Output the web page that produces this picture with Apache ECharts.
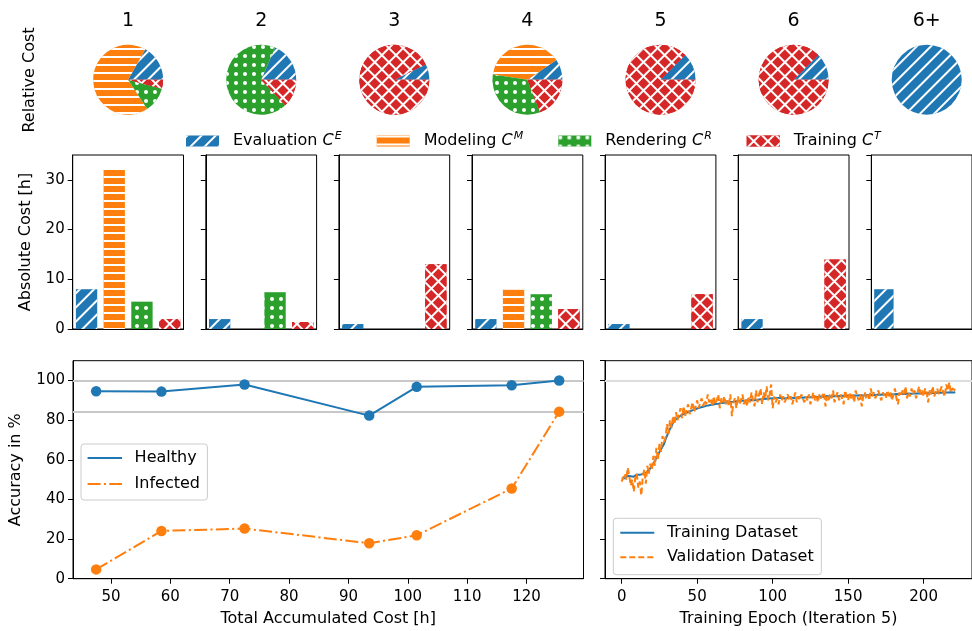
<!DOCTYPE html>
<html><head><meta charset="utf-8">
<script src="https://cdn.jsdelivr.net/npm/echarts@6/dist/echarts.min.js"></script>
<style>html,body{margin:0;padding:0;background:#fff}#c{width:972px;height:631px}</style>
</head><body><div id="c"></div>
<script>
// ---------------- data ----------------
const iterations = ['1', '2', '3', '4', '5', '6', '6+'];
const costTypes = ['Evaluation', 'Modeling', 'Rendering', 'Training'];
const costSup = ['E', 'M', 'R', 'T'];
const evaluationCost = [8, 2, 1, 2, 1, 2, 8];
const modelingCost = [32, 0, 0, 8, 0, 0, 0];
const renderingCost = [5.5, 7.4, 0, 7, 0, 0, 0];
const trainingCost = [2, 1.4, 13, 4, 7, 14, 0];
const totalCost = [47.5, 58.5, 72.5, 93.5, 101.5, 117.5, 125.5];
const healthyAcc = [94.6, 94.4, 98.0, 82.3, 96.8, 97.6, 100];
const infectedAcc = [4.7, 24.1, 25.3, 17.9, 21.9, 45.5, 84.3];
const refLinesLeft = [100, 84.3];
const refLinesRight = [100];
const trainAcc = [
 50.6,51.0,50.7,51.4,51.9,51.2,51.7,52.3,51.5,51.9,
 52.5,51.8,52.4,52.1,52.9,52.6,53.4,53.9,54.7,55.6,
 56.9,58.2,59.3,61.1,62.2,63.9,64.8,66.6,67.9,70.2,
 72.1,73.8,75.6,76.9,78.6,79.4,80.5,80.9,81.7,82.1,
 82.7,82.9,83.4,83.6,84.1,84.2,84.7,84.8,85.3,85.4,
 85.9,85.8,86.4,86.4,86.8,86.8,87.2,87.1,87.5,87.4,
 87.8,87.7,88.1,88.0,88.3,88.2,88.6,88.5,88.8,88.7,
 89.0,88.9,89.2,88.9,89.3,89.2,89.5,89.2,89.6,89.5,
 89.8,89.5,89.9,89.8,90.1,89.8,90.2,90.1,90.0,90.4,
 90.3,90.2,90.6,90.3,90.7,90.4,90.8,90.5,90.9,90.6,
 91.0,90.7,91.1,90.8,91.2,90.9,91.3,91.0,90.9,91.3,
 91.2,91.1,91.5,91.2,91.1,91.5,91.4,91.3,91.7,91.4,
 91.3,91.7,91.6,91.4,91.5,91.9,91.6,91.5,91.9,91.8,
 91.7,91.6,92.0,91.9,91.7,91.8,92.2,91.9,91.8,92.2,
 92.1,91.9,92.2,92.4,92.1,91.9,92.3,92.5,92.2,92.0,
 92.4,92.6,92.3,92.1,92.5,92.7,92.4,92.2,92.6,92.8,
 92.5,92.3,92.7,92.9,92.6,92.4,92.8,93.0,92.7,92.5,
 92.9,93.1,92.8,92.6,93.0,93.2,92.9,92.7,93.1,93.3,
 93.0,92.8,93.2,93.4,93.1,92.9,93.3,93.5,93.2,93.0,
 93.4,93.6,93.3,93.1,93.5,93.7,93.4,93.2,93.6,93.8,
 93.5,93.3,93.7,93.9,93.6,93.4,93.8,94.0,93.7,93.5,
 93.9,94.1,93.8,93.6,94.0,94.2,93.9,93.7,94.1,94.3,
 94.0,94.1
];
const valAcc = [
 49,48.5,53,50,56,52,47,50,44,51,
 53,46,49,42,52,55,48,57,53,58,
 55,62,57,66,60,68,64,72,69,71,
 78,73,80,76,82,78,84,80,83,86,
 81,87,82,85,88,83,86,89,84,87,
 90,86,89,91,87,90,88,93,89,91,
 87,92,88,90,93,86,91,89,92,88,
 90,87,93,82,89,91,86,92,88,90,
 93,88,91,87,92,89,94,90,87,95,
 89,93,96,88,94,91,97,90,93,98,
 86,92,89,91,88,93,90,92,89,91,
 93,90,92,88,91,94,89,92,90,93,
 91,89,92,90,93,88,91,94,90,92,
 89,93,91,90,94,87,92,90,93,91,
 95,89,92,94,90,93,91,88,95,92,
 90,94,91,93,89,95,92,90,93,87,
 92,94,91,93,90,96,92,94,91,93,
 95,92,90,94,93,91,95,92,94,90,
 93,96,91,88,94,92,95,93,97,91,
 94,92,96,93,95,91,94,97,93,95,
 92,96,94,89,95,93,97,92,94,96,
 93,95,97,94,92,98,95,99,94,96,
 97,95
];

// ---------------- styles ----------------
const costArrays = [evaluationCost, modelingCost, renderingCost, trainingCost];
const colors = ['#1f77b4', '#ff7f0e', '#2ca02c', '#d62728'];
const decals = [
  {symbol: 'rect', color: '#ffffff', dashArrayX: [1, 0], dashArrayY: [1.5, 7.5], rotation: -Math.PI / 4},
  {symbol: 'rect', color: '#ffffff', dashArrayX: [1, 0], dashArrayY: [1.5, 5.5], rotation: 0},
  {symbol: 'circle', color: '#ffffff', dashArrayX: [4, 5], dashArrayY: [4, 5], rotation: 0},
  {symbol: 'rect', color: '#d62728', backgroundColor: '#ffffff', dashArrayX: [8, 2], dashArrayY: [8, 2], rotation: Math.PI / 4}
];
const FONT = 'DejaVu Sans';
const TICK_FS = 15, LABEL_FS = 16;
const PANEL_LEFT = 72.7, PANEL_STEP = 133.1, PANEL_W = 110.8;

const grids = [], xAxes = [], yAxes = [], series = [], graphics = [];

iterations.forEach((it, i) => {
  const left = PANEL_LEFT + PANEL_STEP * i;
  grids.push({left: left, top: 155, width: PANEL_W, height: 174, show: true, borderColor: '#000', borderWidth: 1});
  xAxes.push({type: 'category', gridIndex: i, data: costTypes, boundaryGap: true,
    axisLine: {onZero: false, lineStyle: {color: '#000', width: 1}}, axisTick: {alignWithLabel: true, length: 5, lineStyle: {color: '#000'}},
    axisLabel: {show: false}, splitLine: {show: false}});
  yAxes.push({type: 'value', gridIndex: i, min: 0, max: 35, interval: 10,
    axisLine: {show: true, onZero: false, lineStyle: {color: '#000', width: 1}}, axisTick: {show: true, length: 5, lineStyle: {color: '#000'}},
    axisLabel: {show: i === 0, showMaxLabel: false, fontFamily: FONT, fontSize: TICK_FS, color: '#000', margin: 8},
    splitLine: {show: false},
    name: i === 0 ? 'Absolute Cost [h]' : '', nameLocation: 'middle', nameGap: 38.5,
    nameTextStyle: {fontFamily: FONT, fontSize: LABEL_FS, color: '#000'}});
  series.push({type: 'bar', xAxisIndex: i, yAxisIndex: i, barWidth: '77%', silent: true,
    data: costTypes.map((c, k) => ({value: costArrays[k][i], itemStyle: {color: colors[k], decal: decals[k]}}))});
  series.push({type: 'pie', name: 'pie' + it, center: [left + PANEL_W / 2, 79.7], radius: 35,
    startAngle: 0, clockwise: false, silent: true, label: {show: false}, labelLine: {show: false},
    itemStyle: {borderWidth: 0},
    data: costTypes.map((c, k) => ({name: c, value: costArrays[k][i], itemStyle: {color: colors[k], decal: decals[k]}}))
      .filter(d => d.value > 0)});
  graphics.push({type: 'text', x: left + PANEL_W / 2, y: 21, silent: true,
    style: {text: it, fontFamily: FONT, fontSize: 19, fill: '#000', textAlign: 'center', textVerticalAlign: 'middle'}});
});

graphics.push({type: 'text', x: 30, y: 80, rotation: Math.PI / 2, silent: true,
  style: {text: 'Relative Cost', fontFamily: FONT, fontSize: LABEL_FS, fill: '#000', textAlign: 'center', textVerticalAlign: 'middle'}});

// bottom grids
const G_L = grids.length;
grids.push({left: 72.5, top: 360.7, width: 511, height: 218, show: true, borderColor: '#000', borderWidth: 1});
grids.push({left: 605, top: 360.7, width: 378.5, height: 218, show: true, borderColor: '#000', borderWidth: 1});

const axisCommon = {
  axisLine: {show: true, onZero: false, lineStyle: {color: '#000', width: 1}},
  axisTick: {show: true, length: 5, lineStyle: {color: '#000'}},
  splitLine: {show: false},
  nameLocation: 'middle',
  nameTextStyle: {fontFamily: FONT, fontSize: LABEL_FS, color: '#000'}
};
xAxes.push(Object.assign({}, axisCommon, {type: 'value', gridIndex: G_L, min: 43.6, max: 129.6, minInterval: 10, maxInterval: 10,
  axisLabel: {showMinLabel: false, showMaxLabel: false, fontFamily: FONT, fontSize: TICK_FS, color: '#000', margin: 11},
  name: 'Total Accumulated Cost [h]', nameGap: 32}));
yAxes.push(Object.assign({}, axisCommon, {type: 'value', gridIndex: G_L, min: 0, max: 110, interval: 20,
  axisLabel: {showMaxLabel: false, fontFamily: FONT, fontSize: TICK_FS, color: '#000', margin: 8},
  name: 'Accuracy in %', nameGap: 49}));
xAxes.push(Object.assign({}, axisCommon, {type: 'value', gridIndex: G_L + 1, min: -11.05, max: 232.05, minInterval: 50, maxInterval: 50,
  axisLabel: {showMinLabel: false, showMaxLabel: false, fontFamily: FONT, fontSize: TICK_FS, color: '#000', margin: 11},
  name: 'Training Epoch (Iteration 5)', nameGap: 32}));
yAxes.push(Object.assign({}, axisCommon, {type: 'value', gridIndex: G_L + 1, min: 0, max: 110, interval: 20,
  axisLabel: {show: false}}));

series.push({type: 'line', name: 'Healthy', xAxisIndex: G_L, yAxisIndex: G_L, z: 3,
  data: totalCost.map((x, i) => [x, healthyAcc[i]]),
  symbol: 'circle', symbolSize: 10.5, itemStyle: {color: colors[0]}, lineStyle: {color: colors[0], width: 2},
  markLine: {silent: true, symbol: ['none', 'none'], z: 1, label: {show: false},
    lineStyle: {color: '#c8c8c8', width: 2, type: 'solid'},
    data: refLinesLeft.map(v => ({yAxis: v}))}});
series.push({type: 'line', name: 'Infected', xAxisIndex: G_L, yAxisIndex: G_L, z: 3,
  data: totalCost.map((x, i) => [x, infectedAcc[i]]),
  symbol: 'circle', symbolSize: 10.5, itemStyle: {color: colors[1]}, lineStyle: {color: colors[1], width: 2, type: [13, 3.3, 2.1, 3.3]}});
series.push({type: 'line', name: 'Training Dataset', xAxisIndex: G_L + 1, yAxisIndex: G_L + 1, z: 3,
  data: trainAcc.map((v, i) => [i, v]), symbol: 'none', showSymbol: false,
  itemStyle: {color: colors[0]}, lineStyle: {color: colors[0], width: 2},
  markLine: {silent: true, symbol: ['none', 'none'], z: 1, label: {show: false},
    lineStyle: {color: '#dddddd', width: 2, type: 'solid'},
    data: refLinesRight.map(v => ({yAxis: v}))}});
series.push({type: 'line', name: 'Validation Dataset', xAxisIndex: G_L + 1, yAxisIndex: G_L + 1, z: 4,
  data: valAcc.map((v, i) => [i, v]), symbol: 'none', showSymbol: false,
  itemStyle: {color: colors[1]}, lineStyle: {color: colors[1], width: 2, type: [6, 3]}});

// legends
const legendPos = [186, 376.7, 558.3, 746.7];
const legends = costTypes.map((c, k) => ({
  data: [{name: c, itemStyle: {decal: decals[k]}}], left: legendPos[k], top: 131, padding: 0,
  icon: 'rect', itemWidth: 33, itemHeight: 11, selectedMode: false,
  formatter: name => '{t|' + name + ' }{c|C}{s|' + costSup[k] + '}',
  textStyle: {padding: [0, 0, 0, 9], rich: {
    t: {fontFamily: FONT, fontSize: LABEL_FS, color: '#000', lineHeight: 20},
    c: {fontFamily: FONT, fontSize: LABEL_FS, fontStyle: 'italic', color: '#000', lineHeight: 20},
    s: {fontFamily: FONT, fontSize: 11, fontStyle: 'italic', color: '#000', verticalAlign: 'top', lineHeight: 20, padding: [0, 0, 0, 1]}
  }}
}));
const boxLegend = {
  orient: 'vertical', selectedMode: false, borderColor: '#cccccc', borderWidth: 1, borderRadius: 3,
  backgroundColor: 'rgba(255,255,255,0.8)', itemStyle: {opacity: 0}, itemHeight: 14,
  textStyle: {fontFamily: FONT, fontSize: LABEL_FS, color: '#000', padding: [0, 0, 0, 7.6]}
};
legends.push(Object.assign({}, boxLegend, {data: ['Healthy', 'Infected'], left: 81, top: 444,
  padding: [6, 7.4, 8, 5.6], itemWidth: 34.4, itemGap: 10}));
legends.push(Object.assign({}, boxLegend, {data: ['Training Dataset', 'Validation Dataset'], left: 613.3, top: 518.3,
  padding: [6.4, 7.7, 9.4, 6], itemWidth: 34, itemGap: 8.6}));

const chart = echarts.init(document.getElementById('c'), null, {renderer: 'canvas'});
chart.setOption({
  backgroundColor: '#fff', animation: false,
  textStyle: {fontFamily: FONT},
  grid: grids, xAxis: xAxes, yAxis: yAxes, series: series, legend: legends, graphic: graphics
});
</script></body></html>
